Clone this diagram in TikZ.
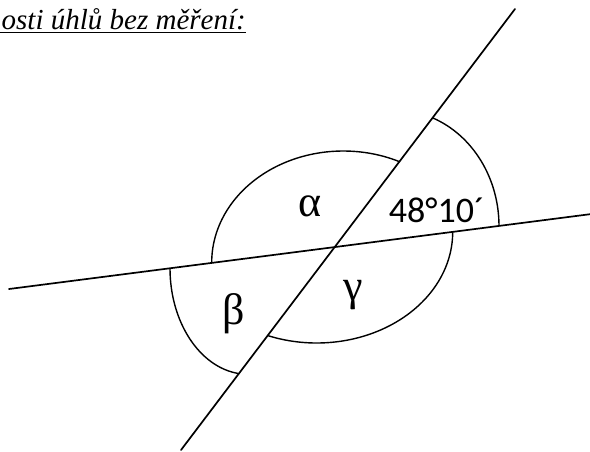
\documentclass[tikz,border=0pt]{standalone}
\usepackage{fontspec}
\setmainfont{Liberation Serif}
\newfontfamily\calibfont{Carlito}
\usetikzlibrary{calc}

\begin{document}
\begin{tikzpicture}[
        x=1pt, y=1pt,
        lne/.style={line width=1.7pt, line cap=round},
        arcline/.style={line width=1.4pt},
        greek/.style={inner sep=0pt, font=\fontsize{44}{52}\selectfont},
        value/.style={inner sep=0pt, font=\calibfont\fontsize{36}{43}\selectfont}
    ]
        \useasboundingbox (0,0) rectangle (590,-451);
        % title, cut off at the left edge
        \node[anchor=base west, inner sep=0pt, font=\itshape\fontsize{29}{35}\selectfont] (title) at (1.5,-29) {osti úhlů bez měření:};
        \draw[line width=1.5pt] ($(title.base west)+(-1.5,-3.5)$) -- ($(title.base east)+(0,-3.5)$);
        % the two lines
        \coordinate (p1) at (9,-289);
        \coordinate (p2) at (590,-214.2);
        \coordinate (q1) at (515,-9);
        \coordinate (q2) at (181,-450);
        \draw[lne] (p1) -- (p2);
        \draw[lne] (q1) -- (q2);
        % angle arcs
        \draw[arcline] (211.7,-262.5) arc[start angle=180, end angle=65, x radius=131.6, y radius=111.5];
        \draw[arcline] (499,-226) arc[start angle=0, end angle=68.7, x radius=104, y radius=116];
        \draw[arcline] (452.7,-232) arc[start angle=0, end angle=-111, x radius=136, y radius=111];
        \draw[arcline] (170,-268.3) arc[start angle=180, end angle=263, x radius=78, y radius=106];
        % labels
        \node[greek] (alpha) at (310,-206.7) {α};
        \node[greek] (beta) at (234,-314) {β};
        \node[greek] (gamma) at (352.8,-295) {γ};
        \node[value] (given) at (436.7,-210.5) {48°10´};
    \end{tikzpicture}
\end{document}
